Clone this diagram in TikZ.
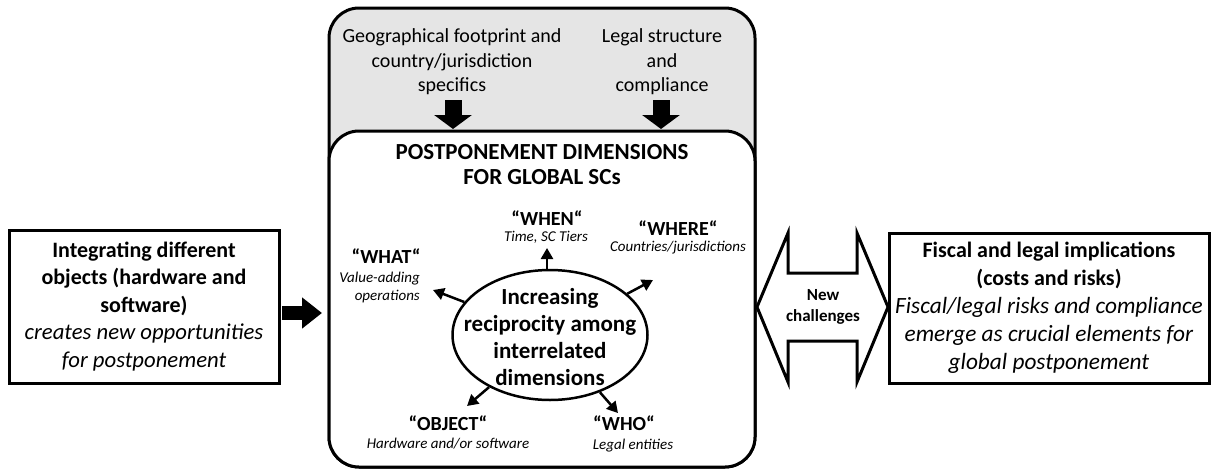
\documentclass[tikz,border=0pt]{standalone}
\usepackage{fontspec}
\setmainfont{Carlito}
\usetikzlibrary{arrows.meta,shapes.geometric}
\begin{document}
\begin{tikzpicture}[x=1pt,y=-1pt,
  frame/.style={line width=3pt},
  bigtxt/.style={font=\fontsize{22}{27.5}\selectfont, align=center, inner sep=0pt},
  graytxt/.style={font=\fontsize{20}{24.5}\selectfont, align=center, inner sep=0pt},
  hd/.style={font=\bfseries\fontsize{20}{22}\selectfont, inner sep=0pt},
  sub/.style={font=\itshape\fontsize{15}{18}\selectfont, inner sep=0pt},
  arr/.style={line width=2.5pt, -{Triangle[length=11pt,width=12pt]}},
  blockarr/.style={line width=14pt, -{Triangle[length=20pt,width=30pt]}},
  downarr/.style={line width=17pt, -{Triangle[length=14pt,width=37pt]}},
]
\useasboundingbox (0,0) rectangle (1211,472);

% outer gray box and inner white box
\draw[frame, fill=gray!20, rounded corners=30pt] (329,8) rectangle (755,467);
\draw[frame, fill=white, rounded corners=30pt] (329,131) rectangle (755,467);
\coordinate (outerW) at (322,313);

% gray texts
\node[graytxt] (geo) at (452,62) {Geographical footprint and\\country/jurisdiction\\specifics};
\node[graytxt] (legal) at (662,62) {Legal structure\\and\\compliance};
\coordinate (g1) at (453,100); \coordinate (g2) at (453,129);
\coordinate (l1) at (661,100); \coordinate (l2) at (661,129);
\draw[downarr] (g1) -- (g2);
\draw[downarr] (l1) -- (l2);

% title
\node[font=\bfseries\fontsize{23}{25}\selectfont, align=center, inner sep=0pt] (title) at (542,164.5) {POSTPONEMENT DIMENSIONS\\FOR GLOBAL SCs};

% ellipse
\node[ellipse, draw, line width=2.5pt, minimum width=195pt, minimum height=130pt, inner sep=0pt] (ell) at (550,335) {};
\node[font=\bfseries\fontsize{23}{27}\selectfont, align=center, inner sep=0pt] (elltxt) at (550,337)
      {Increasing\\reciprocity among\\interrelated\\dimensions};

% dimension labels
\node[hd] (when) at (547,218) {“WHEN“};
\node[sub] (whens) at (546,237) {Time, SC Tiers};
\node[hd] (where) at (678,228) {“WHERE“};
\node[sub] (wheres) at (678,248) {Countries/jurisdictions};
\node[hd] (what) at (386,256) {“WHAT“};
\node[sub, align=right, anchor=east] (whats) at (420,287) {Value-adding\\operations};
\node[hd] (object) at (448,423) {“OBJECT“};
\node[sub] (objects) at (448,444) {Hardware and/or software};
\node[hd] (who) at (624,423) {“WHO“};
\node[sub] (whos) at (633,446) {Legal entities};

\coordinate (tWhat) at (433,290);
\coordinate (tWhere) at (653,280);
\coordinate (tWhen) at (547,248);
\coordinate (tObject) at (467,406);
\coordinate (tWho) at (618,413);
\draw[arr] (ell) -- (tWhat);
\draw[arr] (ell) -- (tWhere);
\draw[arr] (ell.north -| tWhen) -- (tWhen);
\draw[arr] (ell) -- (tObject);
\draw[arr] (ell) -- (tWho);

% left box
\node[draw, frame, minimum width=270pt, minimum height=153pt, inner sep=0pt, bigtxt] (left) at (144,306.5)
  {\textbf{Integrating different}\\\textbf{objects (hardware and}\\\textbf{software)}\\\textit{\fontsize{22.7}{27.5}\selectfont creates new opportunities}\\\textit{\fontsize{22.7}{27.5}\selectfont for postponement}};
\coordinate (la) at (282,313);
\draw[blockarr] (la) -- (outerW);

% right box
\node[draw, frame, minimum width=320pt, minimum height=150pt, inner sep=0pt, bigtxt, font=\fontsize{22}{28}\selectfont] (right) at (1049,308)
  {\textbf{Fiscal and legal implications}\\\textbf{(costs and risks)}\\\textit{\fontsize{23.3}{28}\selectfont Fiscal/legal risks and compliance}\\\textit{\fontsize{23.3}{28}\selectfont emerge as crucial elements for}\\\textit{\fontsize{23.3}{28}\selectfont global postponement}};

% double arrow
\draw[line width=3pt, fill=white, line join=miter]
  (757,307) -- (788,233) -- (788,273) -- (857,273) -- (857,233) -- (888,307)
  -- (857,382) -- (857,341) -- (788,341) -- (788,382) -- cycle;
\node[font=\bfseries\fontsize{17}{21}\selectfont, align=center, inner sep=0pt] (nc) at (823,307) {New\\challenges};
\end{tikzpicture}
\end{document}
